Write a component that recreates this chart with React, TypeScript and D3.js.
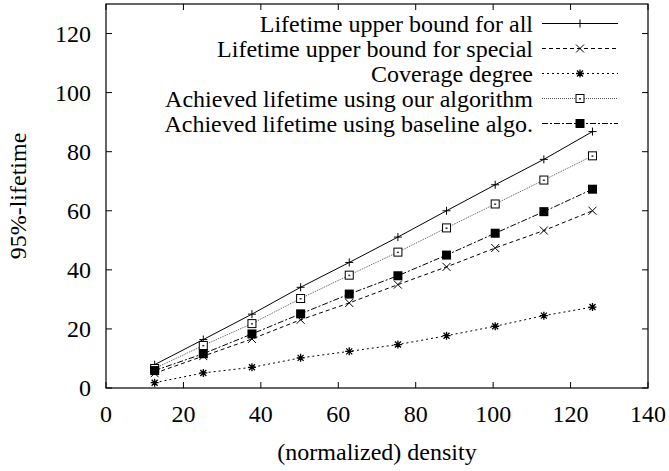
import React from "react";
import * as d3 from "d3";

const density = [12.57, 25.13, 37.7, 50.27, 62.83, 75.4, 87.96, 100.53, 113.1, 125.66];
const upperAll = [7.9, 16.4, 25.0, 34.1, 42.5, 51.1, 60.0, 68.8, 77.4, 86.8];
const upperSpecial = [5.0, 10.8, 16.6, 23.1, 28.8, 35.0, 41.0, 47.4, 53.3, 60.0];
const coverage = [1.8, 5.1, 7.0, 10.2, 12.4, 14.7, 17.7, 20.9, 24.5, 27.4];
const ourAlgo = [6.6, 14.4, 21.8, 30.3, 38.2, 46.0, 54.2, 62.3, 70.4, 78.6];
const baseline = [5.9, 11.6, 18.3, 25.1, 31.8, 38.0, 45.0, 52.4, 59.7, 67.3];

const xTicks = [0, 20, 40, 60, 80, 100, 120, 140];
const yTicks = [0, 20, 40, 60, 80, 100, 120];

const series = [
  { name: "Lifetime upper bound for all", values: upperAll, dash: "none", color: "#000", marker: "plus" },
  { name: "Lifetime upper bound for special", values: upperSpecial, dash: "4,3", color: "#000", marker: "cross" },
  { name: "Coverage degree", values: coverage, dash: "2,3", color: "#000", marker: "star" },
  { name: "Achieved lifetime using our algorithm", values: ourAlgo, dash: "1,1", color: "#555", marker: "box" },
  { name: "Achieved lifetime using baseline algo.", values: baseline, dash: "6,2,2,2", color: "#000", marker: "fbox" },
];

const W = 669, H = 471;
const left = 106, right = 648, top = 4, bottom = 388;

function Marker({ type, x, y }: { type: string; x: number; y: number }) {
  const s = 4;
  if (type === "plus")
    return <path d={`M${x - s},${y}H${x + s}M${x},${y - s}V${y + s}`} stroke="#000" strokeWidth={1} />;
  if (type === "cross")
    return <path d={`M${x - s},${y - s}L${x + s},${y + s}M${x - s},${y + s}L${x + s},${y - s}`} stroke="#000" strokeWidth={1} />;
  if (type === "star")
    return (
      <path
        d={`M${x - s},${y}H${x + s}M${x},${y - s}V${y + s}M${x - 3},${y - 3}L${x + 3},${y + 3}M${x - 3},${y + 3}L${x + 3},${y - 3}`}
        stroke="#000"
        strokeWidth={1.3}
      />
    );
  if (type === "box")
    return (
      <g>
        <rect x={x - 4} y={y - 4} width={8} height={8} fill="#fff" stroke="#000" strokeWidth={1} />
        <rect x={x - 1} y={y - 0.5} width={2} height={1.5} fill="#333" />
      </g>
    );
  return <rect x={x - 4.5} y={y - 4.5} width={9} height={9} fill="#000" />;
}

export default function App() {
  const x = d3.scaleLinear().domain([0, 140]).range([left, right]);
  const y = d3.scaleLinear().domain([0, 130]).range([bottom, top]);

  const line = d3
    .line<number>()
    .x((_, i) => x(density[i]))
    .y((d) => y(d));

  const legendY = [23.5, 48.5, 73.5, 98.5, 123.5];

  return (
    <svg
      width={W}
      height={H}
      style={{ position: "absolute", left: 0, top: 0, fontFamily: '"Liberation Serif"', fontSize: "24px" }}
    >
      <rect width={W} height={H} fill="#fff" />
      {xTicks.map((t) => (
        <g key={"x" + t}>
          <line x1={x(t)} x2={x(t)} y1={bottom} y2={bottom - 6} stroke="#000" />
          <line x1={x(t)} x2={x(t)} y1={top} y2={top + 6} stroke="#000" />
          <text x={x(t)} y={421.5} textAnchor="middle">
            {t}
          </text>
        </g>
      ))}
      {yTicks.map((t) => (
        <g key={"y" + t}>
          <line x1={left} x2={left + 6} y1={y(t)} y2={y(t)} stroke="#000" />
          <line x1={right} x2={right - 6} y1={y(t)} y2={y(t)} stroke="#000" />
          <text x={91} y={y(t) + 8} textAnchor="end">
            {t}
          </text>
        </g>
      ))}
      <rect x={left} y={top} width={right - left} height={bottom - top} fill="none" stroke="#000" strokeWidth={1.2} />

      {series.map((s) => (
        <g key={s.name}>
          <path d={line(s.values) || ""} fill="none" stroke={s.color} strokeWidth={1} strokeDasharray={s.dash} />
          {s.values.map((v, i) => (
            <Marker key={i} type={s.marker} x={x(density[i])} y={y(v)} />
          ))}
        </g>
      ))}

      {series.map((s, i) => (
        <g key={"l" + s.name}>
          <text x={533} y={legendY[i] + 8} textAnchor="end">
            {s.name}
          </text>
          <line x1={542} x2={618} y1={legendY[i]} y2={legendY[i]} stroke={s.color} strokeWidth={1} strokeDasharray={s.dash} />
          <Marker type={s.marker} x={580} y={legendY[i]} />
        </g>
      ))}

      <text x={377} y={460} textAnchor="middle">
        (normalized) density
      </text>
      <text transform={`translate(26,${(top + bottom) / 2}) rotate(-90)`} textAnchor="middle">
        95%-lifetime
      </text>
    </svg>
  );
}
